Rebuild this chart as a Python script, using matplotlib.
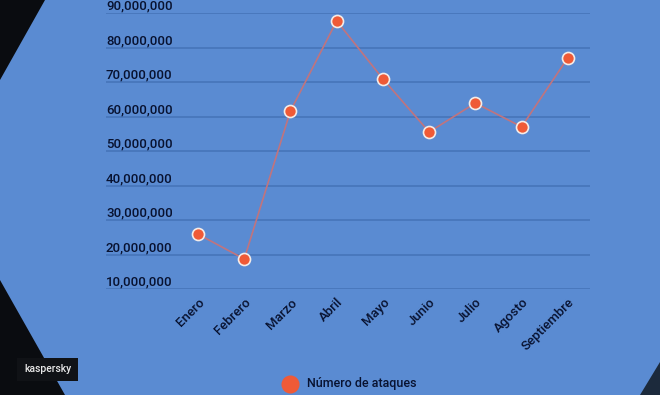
import matplotlib
matplotlib.use("Agg")
import matplotlib.pyplot as plt
from matplotlib.patches import Polygon, Rectangle

months = ["Enero", "Febrero", "Marzo", "Abril", "Mayo", "Junio", "Julio", "Agosto", "Septiembre"]
attacks = [25.9e6, 18.7e6, 61.6e6, 87.7e6, 70.9e6, 55.5e6, 63.9e6, 57.0e6, 77.0e6]
yticks = [10e6, 20e6, 30e6, 40e6, 50e6, 60e6, 70e6, 80e6, 90e6]
series_name = "Número de ataques"

W, H = 660, 395
bg = "#5a8bd2"
text_col = "#081230"

fig = plt.figure(figsize=(6.6, 3.95), dpi=100)
fig.patch.set_facecolor(bg)

# dark corners of the screenshot
dark = "#0a0c10"
fig.patches.append(Polygon([(0, 1), (45 / W, 1), (0, 1 - 80 / H)], closed=True,
                           transform=fig.transFigure, facecolor=dark, edgecolor="none"))
fig.patches.append(Polygon([(0, 1 - 280 / H), (65 / W, 0), (0, 0)], closed=True,
                           transform=fig.transFigure, facecolor=dark, edgecolor="none"))
fig.patches.append(Polygon([(1, 1 - 362 / H), (1, 0), (640 / W, 0)], closed=True,
                           transform=fig.transFigure, facecolor="#1c2a3c", edgecolor="none"))

# kaspersky badge
fig.patches.append(Rectangle((17 / W, 1 - 381 / H), 61 / W, 23 / H,
                             transform=fig.transFigure, facecolor="#101216", edgecolor="none"))
fig.text(47.5 / W, 1 - 369.5 / H, "kaspersky", color="#e8e8e8", fontsize=7.5,
         family="Roboto", weight="medium", ha="center", va="center")

ax = fig.add_axes([106 / W, 1 - 289 / H, (590 - 106) / W, (289 - 13) / H])
ax.set_facecolor("none")
x = list(range(len(months)))
ax.set_xlim(-1.99, 8.48)
ax.set_ylim(10e6, 90e6)

for v in yticks:
    ax.axhline(v, color="#4675b9", lw=1.2, zorder=1)
    ax.text(0.0, v + 0.9e6, f"{int(v):,}", transform=ax.get_yaxis_transform(),
            ha="left", va="baseline", fontsize=9.5, color=text_col,
            family="Roboto", weight="medium", clip_on=False)

ax.plot(x, attacks, color="#c0747e", lw=1.2, zorder=2)
ax.scatter(x, attacks, s=75, color="#ef5a37", edgecolors="#f4ece8", linewidths=1.2, zorder=3)

ax.set_xticks(x)
ax.set_xticklabels(months, rotation=45, ha="right", rotation_mode="anchor",
                   fontsize=9.5, color=text_col, family="Roboto", weight="medium")
ax.tick_params(axis="x", length=0, pad=5)
ax.set_yticks([])
for s in ax.spines.values():
    s.set_visible(False)

# legend
fig.lines.append(plt.Line2D([290 / W], [1 - 384 / H], marker="o", markersize=12,
                            color="#ef5a37", transform=fig.transFigure))
fig.text(307 / W, 1 - 384 / H, series_name, fontsize=9, color=text_col,
         family="Roboto", weight="medium", ha="left", va="center")

fig.savefig("out.png", dpi=100, facecolor=fig.get_facecolor())
